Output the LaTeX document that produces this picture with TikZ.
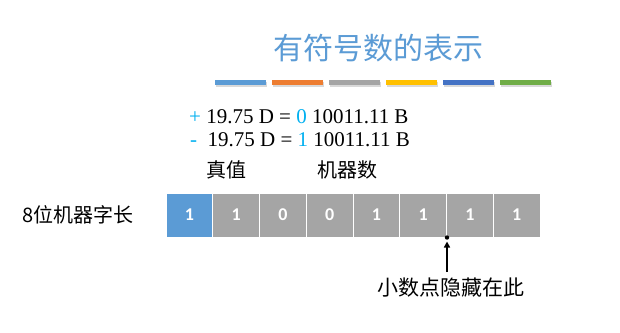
\documentclass[tikz,border=0pt]{standalone}
\usepackage{fontspec}
\setmainfont{Liberation Serif}
\newfontfamily\cjk{Noto Sans CJK SC}
\newfontfamily\digitfont{Carlito}
\definecolor{titleblue}{RGB}{91,155,213}
\definecolor{signblue}{RGB}{0,176,240}
\definecolor{barorange}{RGB}{237,125,49}
\definecolor{bargray}{RGB}{165,165,165}
\definecolor{baryellow}{RGB}{255,192,0}
\definecolor{bardarkblue}{RGB}{68,114,196}
\definecolor{bargreen}{RGB}{112,173,71}
\usetikzlibrary{arrows.meta, positioning}

\tikzset{
  bitbox/.style={draw=white, line width=1pt, fill=bargray, minimum width=46.75pt,
    minimum height=44pt, inner sep=0pt, text=white,
    font=\digitfont\bfseries\fontsize{18}{20}\selectfont},
  cjklabel/.style={font=\cjk\fontsize{20}{24}\selectfont}
}

\begin{document}
\begin{tikzpicture}[x=1pt, y=-1pt]
    \useasboundingbox[fill=white] (0,0) rectangle (620,332);

    % Title
    \node[font=\cjk\fontsize{30}{34}\selectfont, text=titleblue] (title) at (378,48) {有符号数的表示};

    % Colour bars
    \foreach \c [count=\i from 0] in {titleblue,barorange,bargray,baryellow,bardarkblue,bargreen} {
        \fill[black!15] (216+56.9*\i, 82) rectangle +(51,4.5);
        \fill[\c] (215+56.9*\i, 80) rectangle +(51,4.5);
    }

    % Formulas
    \node[anchor=west, inner sep=0pt, font=\fontsize{21}{24}\selectfont] (pos) at (189,117)
        {\textcolor{signblue}{+} 19.75 D = \textcolor{signblue}{0} 10011.11 B};
    \node[anchor=west, inner sep=0pt, font=\fontsize{21}{24}\selectfont] (neg) at (190,140)
        {\textcolor{signblue}{-}~ 19.75 D = \textcolor{signblue}{1} 10011.11 B};
    \node[cjklabel] (truth) at (226,170) {真值};
    \node[cjklabel] (machine) at (347,170) {机器数};

    % Word length
    \node[cjklabel] (wordlen) at (78,215) {8位机器字长};
    \foreach \b [count=\i] in {1,1,0,0,1,1,1,1} {
        \node[bitbox] (b\i) at (166+46.75*\i-23.375, 215) {\b};
    }
    \node[bitbox, fill=titleblue] at (b1) {1};

    % Hidden point
    \fill (b6.south east) circle (2.2pt);
    \node[font=\cjk\fontsize{21}{24}\selectfont] (point) at (451,288) {小数点隐藏在此};
    \draw[-{Triangle[length=6pt, width=6pt]}, line width=1.8pt] (447,272) -- ([yshift=-4pt]b6.south east);
\end{tikzpicture}
\end{document}
